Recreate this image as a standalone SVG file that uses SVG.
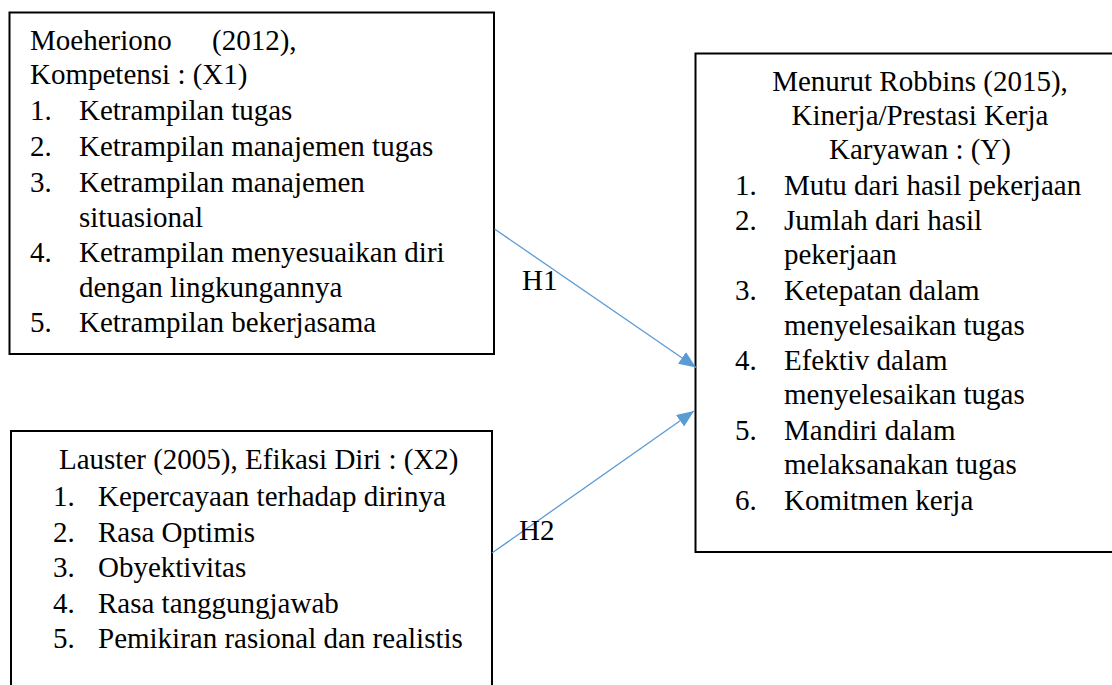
<svg xmlns="http://www.w3.org/2000/svg" width="1112" height="685" viewBox="0 0 1112 685">
  <style>
    .box { fill: #ffffff; stroke: #000000; stroke-width: 2; }
    .t { font-family: "Liberation Serif", "Times New Roman", serif; font-size: 29px; fill: #000000; }
    .mid { text-anchor: middle; }
    .edge { stroke: #5B9BD5; stroke-width: 1.3; fill: none; marker-end: url(#arrow); }
  </style>
  <defs>
    <marker id="arrow" markerUnits="userSpaceOnUse" markerWidth="18" markerHeight="14" refX="17" refY="7" orient="auto">
      <path d="M0,0 L17,7 L0,14 Z" fill="#5B9BD5"/>
    </marker>
  </defs>
  <rect width="1112" height="685" fill="#ffffff"/>

  <!-- X1: Kompetensi -->
  <g id="node-x1">
    <rect class="box" x="9.5" y="12.5" width="484.5" height="341.5"/>
    <text class="t" x="30" y="50">Moeheriono</text>
    <text class="t" x="212" y="50">(2012),</text>
    <text class="t" x="30" y="84">Kompetensi : (X1)</text>
    <text class="t" x="30" y="120">1.</text><text class="t" x="79" y="120">Ketrampilan tugas</text>
    <text class="t" x="30" y="156">2.</text><text class="t" x="79" y="156">Ketrampilan manajemen tugas</text>
    <text class="t" x="30" y="192">3.</text><text class="t" x="79" y="192">Ketrampilan manajemen</text>
    <text class="t" x="79" y="227">situasional</text>
    <text class="t" x="30" y="262">4.</text><text class="t" x="79" y="262">Ketrampilan menyesuaikan diri</text>
    <text class="t" x="79" y="297">dengan lingkungannya</text>
    <text class="t" x="30" y="332">5.</text><text class="t" x="79" y="332">Ketrampilan bekerjasama</text>
  </g>

  <!-- X2: Efikasi Diri -->
  <g id="node-x2">
    <rect class="box" x="11" y="431" width="481" height="270"/>
    <text class="t" x="59" y="469">Lauster (2005), Efikasi Diri : (X2)</text>
    <text class="t" x="53" y="506">1.</text><text class="t" x="98" y="506">Kepercayaan terhadap dirinya</text>
    <text class="t" x="53" y="542">2.</text><text class="t" x="98" y="542">Rasa Optimis</text>
    <text class="t" x="53" y="577">3.</text><text class="t" x="98" y="577">Obyektivitas</text>
    <text class="t" x="53" y="613">4.</text><text class="t" x="98" y="613">Rasa tanggungjawab</text>
    <text class="t" x="53" y="648">5.</text><text class="t" x="98" y="648">Pemikiran rasional dan realistis</text>
  </g>

  <!-- Y: Kinerja -->
  <g id="node-y">
    <rect class="box" x="695.5" y="53.5" width="430" height="498.5"/>
    <text class="t mid" x="920" y="91">Menurut Robbins (2015),</text>
    <text class="t mid" x="920" y="125">Kinerja/Prestasi Kerja</text>
    <text class="t mid" x="920" y="159">Karyawan : (Y)</text>
    <text class="t" x="735" y="195">1.</text><text class="t" x="784" y="195">Mutu dari hasil pekerjaan</text>
    <text class="t" x="735" y="230">2.</text><text class="t" x="784" y="230">Jumlah dari hasil</text>
    <text class="t" x="784" y="264">pekerjaan</text>
    <text class="t" x="735" y="300">3.</text><text class="t" x="784" y="300">Ketepatan dalam</text>
    <text class="t" x="784" y="335">menyelesaikan tugas</text>
    <text class="t" x="735" y="370">4.</text><text class="t" x="784" y="370">Efektiv dalam</text>
    <text class="t" x="784" y="404">menyelesaikan tugas</text>
    <text class="t" x="735" y="440">5.</text><text class="t" x="784" y="440">Mandiri dalam</text>
    <text class="t" x="784" y="474">melaksanakan tugas</text>
    <text class="t" x="735" y="510">6.</text><text class="t" x="784" y="510">Komitmen kerja</text>
  </g>

  <!-- Hypothesis paths -->
  <g id="connectors">
    <line class="edge" x1="494.5" y1="229" x2="696" y2="367.5"/>
    <line class="edge" x1="492" y1="553" x2="694" y2="411"/>
    <text class="t" x="522" y="290">H1</text>
    <text class="t" x="519" y="540">H2</text>
  </g>
</svg>
